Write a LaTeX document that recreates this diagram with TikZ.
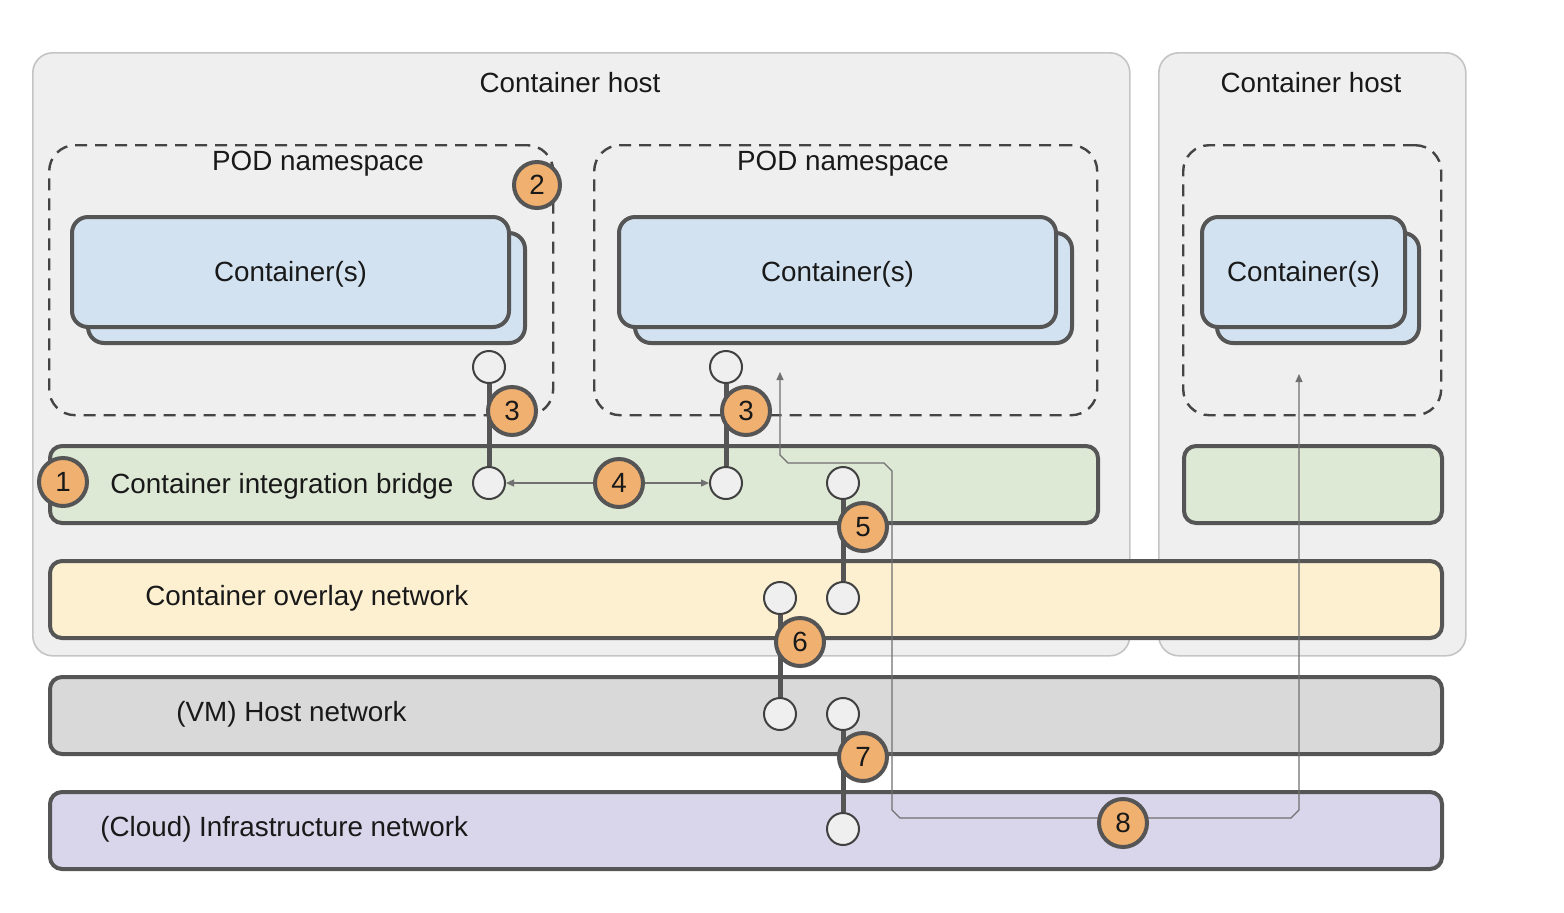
\documentclass[tikz,border=0pt]{standalone}
\usepackage{fontspec}
\setmainfont{Liberation Sans}
\usetikzlibrary{arrows.meta}
\definecolor{hostfill}{HTML}{EFEFEF}
\definecolor{hostline}{HTML}{C4C4C4}
\definecolor{dark}{HTML}{555555}
\definecolor{dashc}{HTML}{444444}
\definecolor{contfill}{HTML}{D2E2F1}
\definecolor{bridgefill}{HTML}{DDE8D5}
\definecolor{overlayfill}{HTML}{FCF0D0}
\definecolor{vmfill}{HTML}{D9D9D9}
\definecolor{infrafill}{HTML}{D9D5EA}
\definecolor{badgefill}{HTML}{F0B070}
\definecolor{thin}{HTML}{707070}
\begin{document}
\begin{tikzpicture}[x=0.5pt,y=-0.5pt,
  every node/.style={font=\fontsize{13.9}{16}\selectfont, text=black!90},
  hostbox/.style={draw=hostline, line width=0.8pt, fill=hostfill, rounded corners=10pt, anchor=north west, inner sep=0pt},
  podbox/.style={draw=dashc, line width=1.2pt, dash pattern=on 6pt off 4pt, rounded corners=13pt, anchor=north west, inner sep=0pt},
  contbox/.style={draw=dark, line width=2pt, fill=contfill, rounded corners=8pt, anchor=north west, inner sep=0pt, minimum height=55pt},
  band/.style={draw=dark, line width=2pt, rounded corners=6pt, anchor=north west, inner sep=0pt, minimum height=38.5pt},
  port/.style={circle, draw=black!75, line width=1pt, fill=hostfill, minimum size=16pt, inner sep=0pt},
  badge/.style={circle, draw=dark, line width=2pt, fill=badgefill, minimum size=24pt, inner sep=0pt},
  link/.style={draw=dark, line width=2.5pt},
  flow/.style={draw=thin, line width=0.6pt},
  tip/.style={-{Triangle[length=4pt,width=3.5pt]}}
]
\useasboundingbox (0,0) rectangle (1564,912);

% hosts
\node[hostbox, minimum width=548.5pt, minimum height=301.5pt] (host1) at (32,52) {};
\node[hostbox, minimum width=153.5pt, minimum height=301.5pt] (host2) at (1158,52) {};
\node (host1lbl) at (570,83) {Container host};
\node (host2lbl) at (1311,83) {Container host};

% pods
\node[podbox, minimum width=252pt, minimum height=135pt] (pod1) at (48,144) {};
\node[podbox, minimum width=251.5pt, minimum height=135pt] (pod2) at (593,144) {};
\node[podbox, minimum width=129pt, minimum height=135pt] (pod3) at (1182,144) {};
\node (pod1lbl) at (318,164) {POD namespace};
\node (pod2lbl) at (843,164) {POD namespace};

% containers
\node[contbox, minimum width=218.5pt] (c1b) at (86,231) {};
\node[contbox, minimum width=218.5pt] (c1) at (70,215) {};
\node at ([yshift=-1pt]c1.center) (c1lbl) {Container(s)};
\node[contbox, minimum width=218.5pt] (c2b) at (633,231) {};
\node[contbox, minimum width=218.5pt] (c2) at (617,215) {};
\node at ([yshift=-1pt]c2.center) (c2lbl) {Container(s)};
\node[contbox, minimum width=101pt] (c3b) at (1215,231) {};
\node[contbox, minimum width=101.5pt] (c3) at (1200,215) {};
\node at ([yshift=-1pt]c3.center) (c3lbl) {Container(s)};

% bands
\node[band, fill=bridgefill, minimum width=524pt] (bridge) at (48,444) {};
\node[band, fill=bridgefill, minimum width=129pt] (bridge2) at (1182,444) {};
\node[band, fill=overlayfill, minimum width=696pt] (overlay) at (48,559) {};
\node[band, fill=vmfill, minimum width=696pt] (vmnet) at (48,675) {};
\node[band, fill=infrafill, minimum width=696pt] (infra) at (48,790) {};
\node[anchor=west, inner sep=0pt] (bridgelbl) at (110,486) {Container integration bridge};
\node[anchor=west, inner sep=0pt] (overlaylbl) at (145,598) {Container overlay network};
\node[anchor=west, inner sep=0pt] (vmlbl) at (176,714) {(VM) Host network};
\node[anchor=west, inner sep=0pt] (infralbl) at (100,829) {(Cloud) Infrastructure network};

% ports
\node[port] (p1a) at (489,367) {};
\node[port] (p1b) at (489,483) {};
\node[port] (p2a) at (726,367) {};
\node[port] (p2b) at (726,483) {};
\node[port] (p5a) at (843,483) {};
\node[port] (p5b) at (843,598) {};
\node[port] (p6a) at (780,598) {};
\node[port] (p6b) at (780,714) {};
\node[port] (p7a) at (843,714) {};
\node[port] (p7b) at (843,829) {};

% links
\draw[link] (p1a) -- (p1b);
\draw[link] (p2a) -- (p2b);
\draw[link] (p5a) -- (p5b);
\draw[link] (p6a) -- (p6b);
\draw[link] (p7a) -- (p7b);

% badges
\node[badge] (b1) at (63,482) {1};
\node[badge, minimum size=23pt] (b2) at (537,185) {2};
\node[badge] (b3a) at (512,411) {3};
\node[badge] (b3b) at (746,411) {3};
\node[badge] (b4) at (619,483) {4};
\node[badge] (b5) at (863,527) {5};
\node[badge] (b6) at (800,642) {6};
\node[badge] (b7) at (863,757) {7};

% flow 4
\draw[flow, tip] (b4) -- (p1b);
\draw[flow, tip] (b4) -- (p2b);

% flow 8
\coordinate (f8s) at (780,372);
\coordinate (f8e) at (1299,374);
\draw[flow, {Triangle[length=4pt,width=3.5pt]}-{Triangle[length=4pt,width=3.5pt]}]
  (f8s) -- (780,455) -- (788,463) -- (884,463) -- (892,471) -- (892,810) -- (900,818)
  -- (1291,818) -- (1299,810) -- (f8e);
\node[badge] (b8) at (1123,823) {8};
\end{tikzpicture}
\end{document}
